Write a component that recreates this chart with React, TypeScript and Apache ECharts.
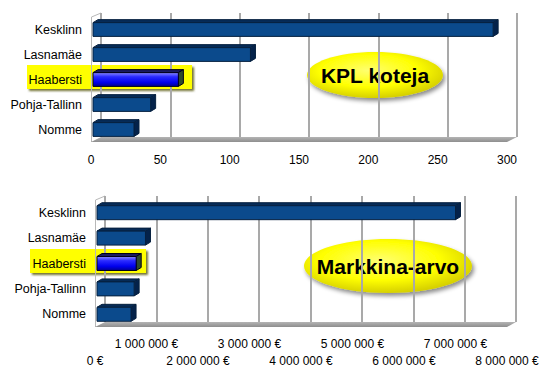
import React, { useEffect, useRef } from 'react';
import * as echarts from 'echarts';

const categories = ['Kesklinn', 'Lasnamäe', 'Haabersti', 'Pohja-Tallinn', 'Nomme'];
const kplValues = [290, 115, 63, 43, 31];
const marketValues = [7000000, 980000, 800000, 760000, 700000];
const highlightedCategory = 'Haabersti';
const kplAxis = { min: 0, max: 300, interval: 50 };
const marketAxis = { min: 0, max: 8000000, interval: 1000000 };
const chartTitles = ['KPL koteja', 'Markkina-arvo'];

const FONT = 'Liberation Sans, Arial, sans-serif';

const fmtEuro = (v: number) =>
  String(v).replace(/\B(?=(\d{3})+(?!\d))/g, ' ') + ' €';

function makeRenderItem(hlIndex: number) {
  return (params: any, api: any) => {
    const v = api.value(0);
    const c = api.value(1);
    const p0 = api.coord([0, c]);
    const p1 = api.coord([v, c]);
    const band = Math.abs(api.size([0, 1])[1]);
    const h = band * 0.55;
    const x0 = p0[0] + 2;
    const x1 = p1[0];
    const yT = p0[1] - h / 2;
    const yB = p0[1] + h / 2;
    const dx = 5;
    const dy = 3;
    const hl = c === hlIndex;
    const border = hl ? '#000018' : '#06203f';
    const front = hl
      ? new echarts.graphic.LinearGradient(0, 0, 0, 1, [
          { offset: 0, color: '#8a8aff' },
          { offset: 0.3, color: '#2b2bff' },
          { offset: 0.7, color: '#0000ee' },
          { offset: 1, color: '#000090' },
        ])
      : '#0b4a8c';
    const topC = hl ? '#1a1a60' : '#062b57';
    const sideC = hl ? '#2e4a2e' : '#04224a';
    return {
      type: 'group',
      children: [
        {
          type: 'polygon',
          shape: { points: [[x0, yT], [x0 + dx, yT - dy], [x1 + dx, yT - dy], [x1, yT]] },
          style: { fill: topC, stroke: border, lineWidth: 1 },
        },
        {
          type: 'polygon',
          shape: { points: [[x1, yT], [x1 + dx, yT - dy], [x1 + dx, yB - dy], [x1, yB]] },
          style: { fill: sideC, stroke: border, lineWidth: 1 },
        },
        {
          type: 'rect',
          shape: { x: x0, y: yT, width: x1 - x0, height: yB - yT },
          style: { fill: front, stroke: border, lineWidth: 1 },
        },
      ],
    };
  };
}

function ellipseBadge(cx: number, cy: number, rx: number, ry: number, text: string) {
  return [
    {
      type: 'ellipse',
      z: -1,
      shape: { cx, cy, rx, ry },
      style: {
        fill: new echarts.graphic.RadialGradient(0.45, 0.4, 0.6, [
          { offset: 0, color: '#ffff70' },
          { offset: 0.6, color: '#ffff00' },
          { offset: 1, color: '#d6d000' },
        ]),
        shadowBlur: 4,
        shadowOffsetX: 2,
        shadowOffsetY: 3,
        shadowColor: 'rgba(0,0,0,0.45)',
      },
    },
    {
      type: 'text',
      z: -1,
      x: cx,
      y: cy,
      style: {
        text,
        font: `bold 21px ${FONT}`,
        align: 'center',
        verticalAlign: 'middle',
        fill: new echarts.graphic.LinearGradient(0, 0, 0, 1, [
          { offset: 0, color: '#0a2550' },
          { offset: 0.5, color: '#2f72c4' },
          { offset: 1, color: '#0a2550' },
        ]),
        shadowBlur: 1,
        shadowOffsetX: 1,
        shadowOffsetY: 1,
        shadowColor: 'rgba(0,0,0,0.35)',
      },
    },
  ];
}

export default function App() {
  const ref = useRef<HTMLDivElement>(null);
  useEffect(() => {
    if (!ref.current) return;
    const chart = echarts.init(ref.current, undefined, { renderer: 'svg' });
    const hlIndex = categories.indexOf(highlightedCategory);
    const splitLine = { show: true, lineStyle: { color: '#a9a9a9', width: 2 } };
    const hiddenX = {
      type: 'value',
      position: 'bottom',
      axisLabel: { show: false },
      axisLine: { show: false },
      axisTick: { show: false },
      splitLine,
    };
    const hiddenY = {
      type: 'category',
      data: categories,
      inverse: true,
      show: false,
    };
    const catY = {
      type: 'category',
      data: categories,
      inverse: true,
      axisLine: { show: false },
      axisTick: { show: false },
      z: 5,
      axisLabel: { color: '#000', fontSize: 12.5, fontFamily: FONT, margin: 9 },
    };
    const labelAxis = (gridIndex: number, range: any, margin: number, formatter: any) => ({
      type: 'value',
      gridIndex,
      position: 'bottom',
      offset: 0,
      ...range,
      axisLine: { show: false },
      axisTick: { show: false },
      splitLine: { show: false },
      axisLabel: {
        color: '#000',
        fontSize: 12,
        fontFamily: FONT,
        margin,
        showMinLabel: true,
        showMaxLabel: true,
        hideOverlap: false,
        formatter,
      },
    });
    const option: any = {
      animation: false,
      grid: [
        { left: 101, width: 416, top: 13, height: 124 },
        { left: 91, width: 416, top: 17, height: 125 },
        { left: 105, width: 411, top: 196, height: 126 },
        { left: 95, width: 412, top: 200, height: 127 },
      ],
      xAxis: [
        { ...hiddenX, gridIndex: 0, ...kplAxis },
        labelAxis(1, kplAxis, 12, (v: number) => String(v)),
        { ...hiddenX, gridIndex: 2, ...marketAxis },
        // odd millions on the upper row
        labelAxis(3, marketAxis, 11, (v: number, i: number) => (i % 2 === 1 ? fmtEuro(v) : '')),
        // even millions on the lower row
        labelAxis(3, marketAxis, 28, (v: number, i: number) => (i % 2 === 0 ? fmtEuro(v) : '')),
      ],
      yAxis: [
        { ...hiddenY, gridIndex: 0 },
        { ...catY, gridIndex: 1 },
        { ...hiddenY, gridIndex: 2 },
        { ...catY, gridIndex: 3 },
      ],
      graphic: [
        // top chart decorations
        { type: 'rect', z: -1, shape: { x: 27, y: 65, width: 165, height: 24 }, style: { fill: '#ffff00', shadowBlur: 2, shadowOffsetX: 2, shadowOffsetY: 2, shadowColor: 'rgba(80,80,0,0.8)' } },
        { type: 'line', shape: { x1: 91.5, y1: 142, x2: 91.5, y2: 17 }, style: { stroke: '#b8b8b8', lineWidth: 1 } },
        { type: 'line', shape: { x1: 91.5, y1: 17, x2: 101, y2: 13 }, style: { stroke: '#b8b8b8', lineWidth: 1 } },
        {
          type: 'polygon',
          shape: { points: [[91, 142], [101, 137], [517, 137], [507, 142]] },
          style: {
            fill: new echarts.graphic.LinearGradient(0, 0, 0, 1, [
              { offset: 0, color: '#b4b4b4' },
              { offset: 1, color: '#8e8e8e' },
            ]),
          },
        },
        ...ellipseBadge(375, 75, 68, 23, chartTitles[0]),
        // bottom chart decorations
        { type: 'rect', z: -1, shape: { x: 30, y: 249, width: 116, height: 24 }, style: { fill: '#ffff00', shadowBlur: 2, shadowOffsetX: 2, shadowOffsetY: 2, shadowColor: 'rgba(80,80,0,0.8)' } },
        { type: 'line', shape: { x1: 95.5, y1: 327, x2: 95.5, y2: 200 }, style: { stroke: '#b8b8b8', lineWidth: 1 } },
        { type: 'line', shape: { x1: 95.5, y1: 200, x2: 105, y2: 196 }, style: { stroke: '#b8b8b8', lineWidth: 1 } },
        {
          type: 'polygon',
          shape: { points: [[95, 327], [105, 322], [516, 322], [507, 327]] },
          style: {
            fill: new echarts.graphic.LinearGradient(0, 0, 0, 1, [
              { offset: 0, color: '#b4b4b4' },
              { offset: 1, color: '#8e8e8e' },
            ]),
          },
        },
        ...ellipseBadge(388, 266, 84, 27, chartTitles[1]),
      ],
      series: [
        {
          type: 'custom',
          xAxisIndex: 1,
          yAxisIndex: 1,
          clip: false,
          renderItem: makeRenderItem(hlIndex),
          data: kplValues.map((v, i) => [v, i]),
        },
        {
          type: 'custom',
          xAxisIndex: 3,
          yAxisIndex: 3,
          clip: false,
          renderItem: makeRenderItem(hlIndex),
          data: marketValues.map((v, i) => [v, i]),
        },
      ],
    };
    chart.setOption(option);
    return () => chart.dispose();
  }, []);
  return (
    <div
      ref={ref}
      style={{ position: 'fixed', left: 0, top: 0, width: 560, height: 376, background: '#fff' }}
    />
  );
}
